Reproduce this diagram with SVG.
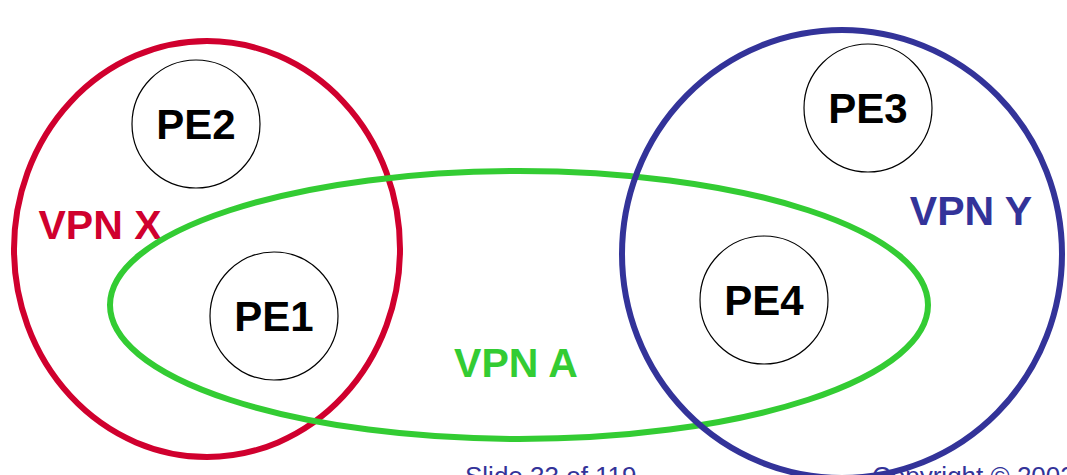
<svg xmlns="http://www.w3.org/2000/svg" width="1067" height="475" viewBox="0 0 1067 475">
<style>
.pe{fill:#fff;stroke:#000;stroke-width:1.2}
.pet{font-family:"Liberation Sans",Arial,sans-serif;font-weight:bold;font-size:42px;fill:#000;text-anchor:middle}
.lab{font-family:"Liberation Sans",Arial,sans-serif;font-weight:bold;font-size:41px;text-anchor:middle}
.foot{font-family:"Liberation Sans",Arial,sans-serif;font-size:26px;fill:#333399}
</style>
<rect width="1067" height="475" fill="#fff"/>
<g id="PE2"><circle class="pe" cx="196" cy="124" r="64"/><text class="pet" x="196" y="139">PE2</text></g>
<g id="PE1"><circle class="pe" cx="274" cy="316" r="64"/><text class="pet" x="274" y="331">PE1</text></g>
<g id="PE3"><circle class="pe" cx="868" cy="108" r="64"/><text class="pet" x="868" y="123">PE3</text></g>
<g id="PE4"><circle class="pe" cx="764" cy="300" r="64"/><text class="pet" x="764" y="315">PE4</text></g>
<g id="vpnx"><ellipse cx="207" cy="249" rx="193" ry="208" fill="none" stroke="#d0002e" stroke-width="6"/><text class="lab" x="100" y="239" fill="#d0002e">VPN X</text></g>
<g id="vpna"><ellipse cx="519" cy="305" rx="409" ry="134" fill="none" stroke="#33cc33" stroke-width="6"/><text class="lab" x="516" y="377" fill="#33cc33">VPN A</text></g>
<g id="vpny"><ellipse cx="842" cy="254" rx="220" ry="224" fill="none" stroke="#333399" stroke-width="6"/><text class="lab" x="971" y="225" fill="#333399">VPN Y</text></g>
<g id="connectors"></g>
<text class="foot" x="465" y="485">Slide 33 of 119</text>
<text class="foot" x="872" y="485">Copyright © 2002</text>
</svg>
